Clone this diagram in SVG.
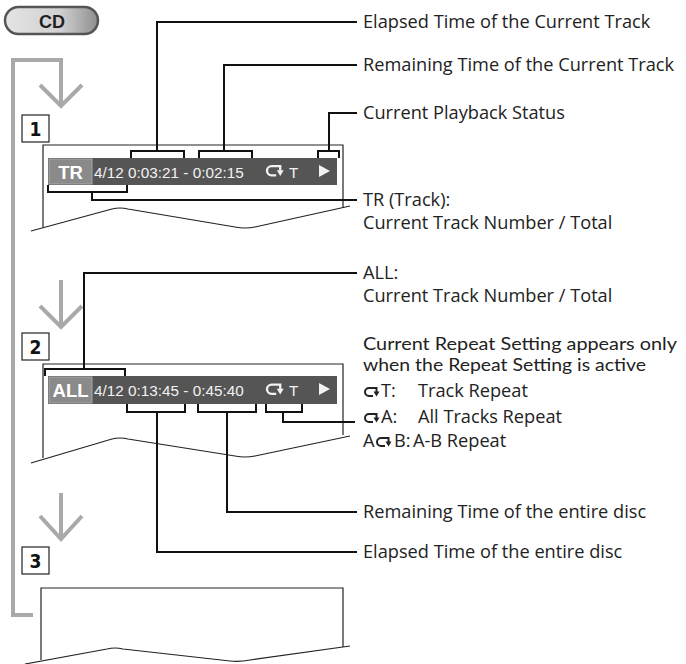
<svg xmlns="http://www.w3.org/2000/svg" width="686" height="664" viewBox="0 0 686 664">
<defs>
<linearGradient id="cdg" x1="0" y1="0" x2="1" y2="0">
<stop offset="0" stop-color="#e4e4e4"/>
<stop offset="0.6" stop-color="#d0d0d0"/>
<stop offset="1" stop-color="#8e8e8e"/>
</linearGradient>
<g id="rep">
<path d="M11.5,5 V1 H4 A4,4 0 0 0 4,9 H8" fill="none" stroke-width="2"/>
<path d="M8.5,4.5 H14.5 L11.5,9.5 Z" stroke="none"/>
</g>
</defs>
<style>
.lbl{font-family:"Open Sans",Lato,"Liberation Sans",sans-serif;font-size:18.2px;fill:#222}
.sm{font-family:Lato,"Open Sans",sans-serif;font-size:17.4px}
.disp{font-family:"Liberation Sans",Arial,sans-serif;font-size:15.3px;fill:#f2f2f2}
.tag{font-family:"Liberation Sans",Arial,sans-serif;font-size:18.5px;font-weight:bold;fill:#fff}
.num{font-family:"DejaVu Sans Condensed","DejaVu Sans",sans-serif;font-size:19px;font-weight:bold;fill:#111}
.gray{fill:none;stroke:#a9a9a9;stroke-width:4}
.panel{fill:none;stroke:#222;stroke-width:1.2}
.conn{fill:none;stroke:#111;stroke-width:2}
.box{fill:#fff;stroke:#222;stroke-width:1.2}
</style>

<g id="cd-button">
<rect x="5" y="7" width="93" height="27" rx="13.5" fill="url(#cdg)" stroke="#555" stroke-width="2.5"/>
<text x="52" y="27.5" text-anchor="middle" font-family="Liberation Sans,Arial,sans-serif" font-size="18" font-weight="bold" fill="#222">CD</text>
</g>

<g id="flow-loop">
<path class="gray" d="M33,615 H13 V60 H61 V104"/>
<path class="gray" d="M40,85 L61,106 L82,85"/>
<path class="gray" d="M61,280 V327"/>
<path class="gray" d="M40,306 L61,327 L82,306"/>
<path class="gray" d="M61,493 V539"/>
<path class="gray" d="M40,516 L61,539 L82,516"/>
</g>

<g id="step1">
<rect class="box" x="22" y="115" width="27" height="27"/>
<text class="num" x="35.5" y="136" text-anchor="middle">1</text>
</g>
<g id="step2">
<rect class="box" x="22" y="333" width="27" height="27"/>
<text class="num" x="35.5" y="354" text-anchor="middle">2</text>
</g>
<g id="step3">
<rect class="box" x="22" y="547" width="27" height="27"/>
<text class="num" x="35.5" y="568" text-anchor="middle">3</text>
</g>

<g id="display1">
<path class="panel" d="M43,227 V145 H343 V208"/>
<path class="panel" d="M31,231 L112,209 Q120,207 128,209 L235,227 Q245,229 255,227 L350,206"/>
<rect x="48" y="158" width="289" height="27" fill="#555"/>
<rect x="49" y="159" width="43" height="25" fill="#8a8a8a" stroke="#a8a8a8" stroke-width="1"/>
<text class="tag" x="70.5" y="178.5" text-anchor="middle">TR</text>
<text class="disp" x="94" y="177.5">4/12 0:03:21 - 0:02:15</text>
<use href="#rep" transform="translate(267,165) scale(1.15)" stroke="#f2f2f2" fill="#f2f2f2"/>
<text class="disp" x="289" y="177.5" font-size="16.5">T</text>
<path d="M319,165 L330,171 L319,177 Z" fill="#f2f2f2"/>
</g>

<g id="display2">
<path class="panel" d="M43,458 V364 H343 V435"/>
<path class="panel" d="M31,463 L112,439 Q120,437 128,439 L235,456 Q245,458 255,456 L350,436"/>
<rect x="48" y="376" width="289" height="28" fill="#555"/>
<rect x="49" y="377" width="43" height="26" fill="#8a8a8a" stroke="#a8a8a8" stroke-width="1"/>
<text class="tag" x="70.5" y="397" text-anchor="middle">ALL</text>
<text class="disp" x="94" y="396">4/12 0:13:45 - 0:45:40</text>
<use href="#rep" transform="translate(267,383.5) scale(1.15)" stroke="#f2f2f2" fill="#f2f2f2"/>
<text class="disp" x="289" y="396" font-size="16.5">T</text>
<path d="M319,383 L330,389 L319,395 Z" fill="#f2f2f2"/>
</g>

<g id="display3">
<path class="panel" d="M41,660 V588 H343 V647"/>
<path class="panel" d="M25,664 L107,649 Q115,647 123,649 L230,661 Q240,662 250,660 L350,646"/>
</g>

<g id="connectors">
<path class="conn" d="M131,158 V151 H184 V158"/>
<path class="conn" d="M157,151 V22 H357"/>
<path class="conn" d="M199,158 V151 H252 V158"/>
<path class="conn" d="M224,151 V65 H357"/>
<path class="conn" d="M318,158 V151 H339 V158"/>
<path class="conn" d="M329,151 V113 H357"/>
<path class="conn" d="M48,185 V192 H127 V185"/>
<path class="conn" d="M92,192 V200 H357"/>
<path class="conn" d="M45,376 V369 H125 V376"/>
<path class="conn" d="M84,369 V273 H357"/>
<path class="conn" d="M127,404 V412 H185 V404"/>
<path class="conn" d="M157,412 V552 H357"/>
<path class="conn" d="M198,404 V412 H256 V404"/>
<path class="conn" d="M227,412 V512 H357"/>
<path class="conn" d="M266,404 V412 H302 V404"/>
<path class="conn" d="M283,412 V422 H355"/>
</g>

<g id="labels">
<text class="lbl" x="363" y="28">Elapsed Time of the Current Track</text>
<text class="lbl" x="363" y="71">Remaining Time of the Current Track</text>
<text class="lbl" x="363" y="119">Current Playback Status</text>
<text class="lbl" x="363" y="206">TR (Track):</text>
<text class="lbl" x="363" y="229">Current Track Number / Total</text>
<text class="lbl" x="363" y="279">ALL:</text>
<text class="lbl" x="363" y="302">Current Track Number / Total</text>
<text class="lbl sm" x="363" y="349.5" textLength="314" lengthAdjust="spacingAndGlyphs">Current Repeat Setting appears only</text>
<text class="lbl sm" x="363" y="371" textLength="283" lengthAdjust="spacingAndGlyphs">when the Repeat Setting is active</text>
<use href="#rep" transform="translate(365,387)" stroke="#222" fill="#222"/>
<text class="lbl" x="381" y="397">T:<tspan x="418">Track Repeat</tspan></text>
<use href="#rep" transform="translate(365,413)" stroke="#222" fill="#222"/>
<text class="lbl" x="381" y="423">A:<tspan x="418">All Tracks Repeat</tspan></text>
<text class="lbl" x="363" y="447">A<tspan x="394">B:</tspan><tspan x="413">A-B Repeat</tspan></text>
<use href="#rep" transform="translate(377,437)" stroke="#222" fill="#222"/>
<text class="lbl" x="363" y="518">Remaining Time of the entire disc</text>
<text class="lbl" x="363" y="558">Elapsed Time of the entire disc</text>
</g>
</svg>
